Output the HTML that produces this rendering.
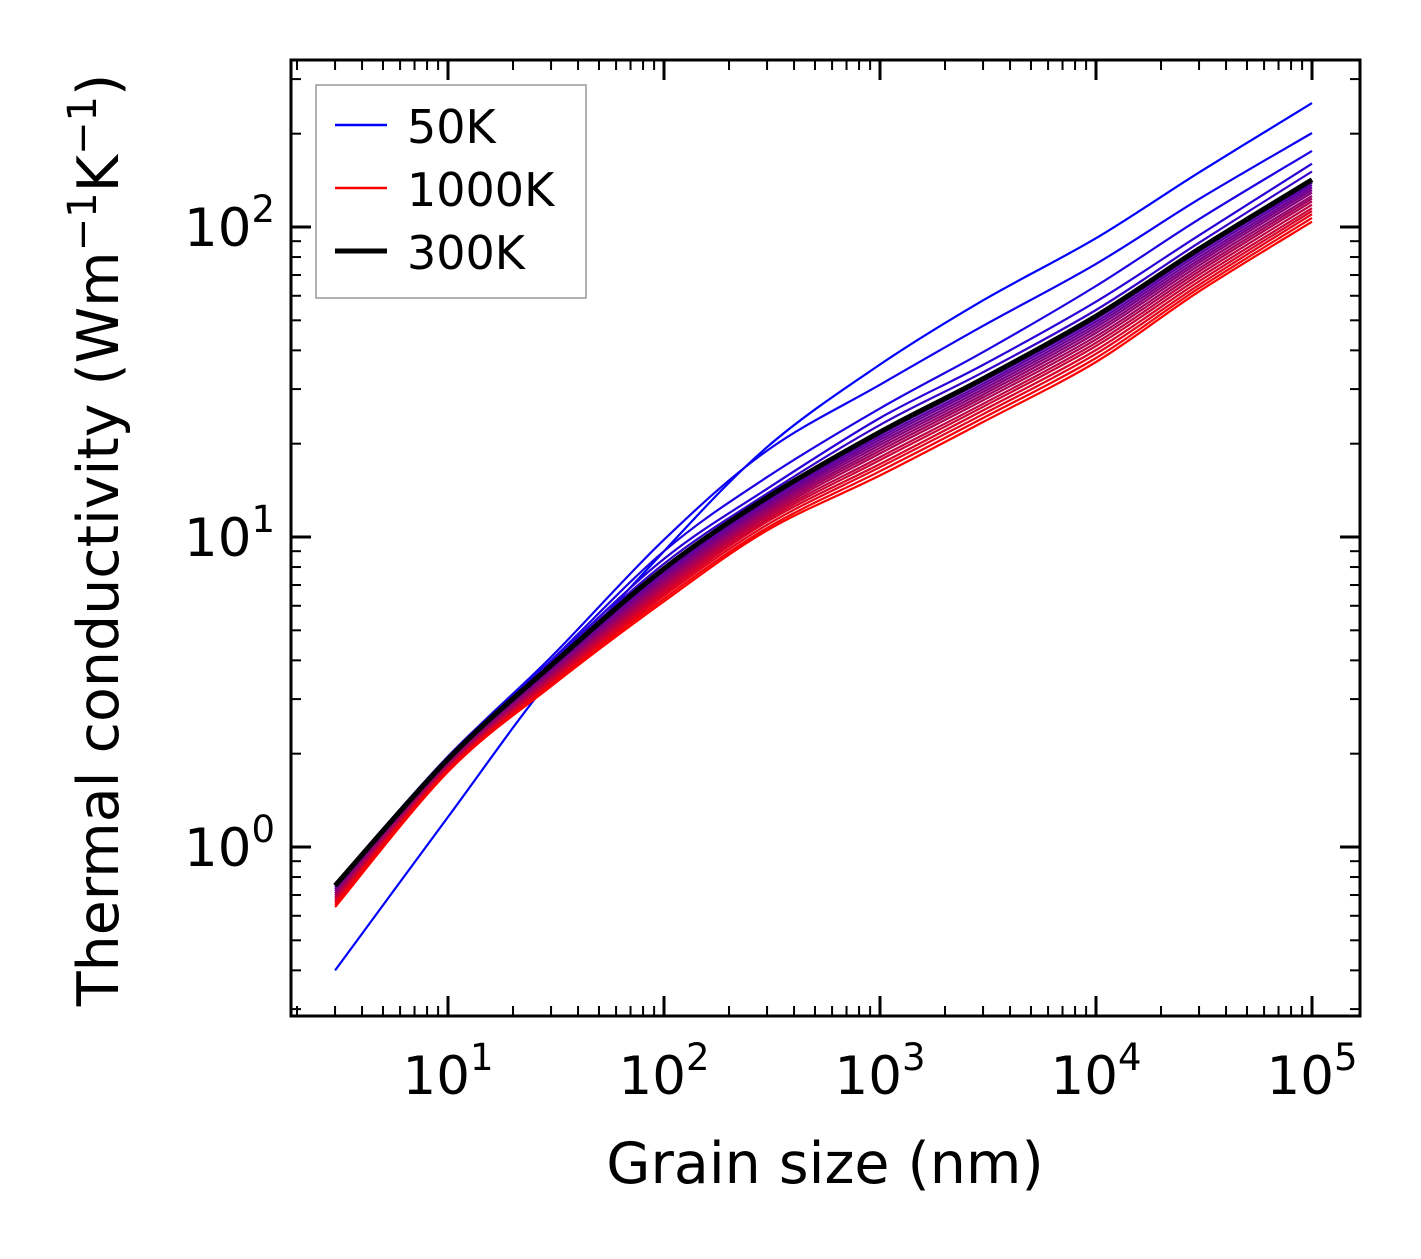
<!DOCTYPE html>
<html><head><meta charset="utf-8"><style>
body{margin:0;background:#fff}
svg text{font-family:"DejaVu Sans","Liberation Sans",sans-serif;fill:#000}
</style></head><body>
<svg id="chart" width="1421" height="1254" viewBox="0 0 1421 1254" xmlns="http://www.w3.org/2000/svg">
<g id="curves"></g>
<g id="axes"></g>
<text x="825" y="1183" font-size="57" text-anchor="middle">Grain size (nm)</text>
<text transform="translate(118,540) rotate(-90)" font-size="57" text-anchor="middle">Thermal conductivity (Wm<tspan dy="-22" font-size="40">−1</tspan><tspan dy="22">K</tspan><tspan dy="-22" font-size="40">−1</tspan><tspan dy="22">)</tspan></text>
<g>
<rect x="316" y="85" width="270" height="213" fill="#fff" stroke="#999" stroke-width="1.5"/>
<line x1="335" y1="125" x2="387" y2="125" stroke="#0000ff" stroke-width="2.5"/>
<text x="407" y="143" font-size="46">50K</text>
<line x1="335" y1="188" x2="387" y2="188" stroke="#ff0000" stroke-width="2.5"/>
<text x="407" y="206" font-size="46">1000K</text>
<line x1="335" y1="251" x2="387" y2="251" stroke="#000" stroke-width="5"/>
<text x="407" y="269" font-size="46">300K</text>
</g>
</svg>
<script>
const grainSizes=[3,10,30,100,300,1000,3000,10000,30000,100000];
const temps=[50,100,150,200,250,300,350,400,450,500,550,600,650,700,750,800,850,900,950,1000];
const k50=[0.40,1.25,3.5,9.0,19.5,36,58,92,150,251];
const k100=[0.74,1.95,4.1,9.8,19,31,48,76,123,201];
const k150=[0.76,1.96,4.0,9.0,15.6,26,39.5,64.5,106,176];
const k200=[0.76,1.95,3.95,8.5,14.3,24.2,35.9,57.4,94,160];
const k250=[0.76,1.94,3.9,8.2,13.8,23,34,54,89,151];
const k300=[0.75,1.92,3.85,7.9,13.4,21.8,32.4,51.6,85,142];
const k350=[0.74,1.91,3.81,7.78,13.2,21.4,31.8,50.5,83.3,139];
const k400=[0.73,1.90,3.77,7.66,13.0,21.0,31.2,49.5,81.7,136.5];
const k450=[0.73,1.88,3.73,7.54,12.8,20.6,30.6,48.5,80,134];
const k500=[0.72,1.87,3.69,7.42,12.6,20.2,30.0,47.5,78.4,131.5];
const k550=[0.71,1.86,3.65,7.30,12.4,19.8,29.4,46.5,76.8,129];
const k600=[0.70,1.85,3.61,7.18,12.2,19.4,28.8,45.5,75.2,126];
const k650=[0.70,1.83,3.57,7.06,12.0,19.0,28.2,44.4,73.5,123.5];
const k700=[0.69,1.82,3.53,6.94,11.8,18.6,27.6,43.4,71.9,121];
const k750=[0.68,1.81,3.49,6.82,11.6,18.1,26.9,42.3,70.2,118];
const k800=[0.67,1.80,3.45,6.70,11.4,17.7,26.3,41.3,68.5,115];
const k850=[0.67,1.79,3.41,6.58,11.2,17.2,25.6,40.1,66.8,112.5];
const k900=[0.66,1.78,3.37,6.46,10.95,16.8,24.9,39.0,65.1,110];
const k950=[0.65,1.76,3.34,6.33,10.7,16.3,24.2,37.8,63.5,107];
const k1000=[0.64,1.75,3.3,6.2,10.5,15.8,23.5,36.7,62,104];
const series=[k50,k100,k150,k200,k250,k300,k350,k400,k450,k500,k550,k600,k650,k700,k750,k800,k850,k900,k950,k1000];
const xTickExps=[1,2,3,4,5];
const yTickExps=[0,1,2];

const X0=291,X1=1360,Y0=60,Y1=1016;
const xmin=Math.pow(10,1-(448-291)/216), xmax=Math.pow(10,5+48/216);
const ymax=Math.pow(10,2+167/310), ymin=Math.pow(10,-169/310);
const xs=v=>X0+(Math.log10(v)-Math.log10(xmin))/(Math.log10(xmax)-Math.log10(xmin))*(X1-X0);
const ys=v=>Y1-(Math.log10(v)-Math.log10(ymin))/(Math.log10(ymax)-Math.log10(ymin))*(Y1-Y0);
const NS="http://www.w3.org/2000/svg";
function pathFor(vals){
  const p=grainSizes.map((g,i)=>[xs(g),ys(vals[i])]);
  let d="M"+p[0][0].toFixed(1)+","+p[0][1].toFixed(1);
  for(let i=0;i<p.length-1;i++){
    const a=p[Math.max(i-1,0)],b=p[i],c=p[i+1],e=p[Math.min(i+2,p.length-1)];
    const c1=[b[0]+(c[0]-a[0])/6,b[1]+(c[1]-a[1])/6],c2=[c[0]-(e[0]-b[0])/6,c[1]-(e[1]-b[1])/6];
    d+=" C"+c1.map(v=>v.toFixed(1))+" "+c2.map(v=>v.toFixed(1))+" "+c.map(v=>v.toFixed(1));
  }
  return d;
}
const cg=document.getElementById('curves');
series.forEach((vals,i)=>{
  const f=(temps[i]-50)/950;
  const el=document.createElementNS(NS,'path');
  el.setAttribute('d',pathFor(vals));
  el.setAttribute('fill','none');
  el.setAttribute('stroke',`rgb(${Math.round(255*f)},0,${Math.round(255*(1-f))})`);
  el.setAttribute('stroke-width','2.2');
  
  
  cg.appendChild(el);
});
const blk=document.createElementNS(NS,'path');
blk.setAttribute('d',pathFor(k300));
blk.setAttribute('fill','none');blk.setAttribute('stroke','#000');blk.setAttribute('stroke-width','5');


cg.appendChild(blk);

const ax=document.getElementById('axes');
function ln(x1,y1,x2,y2,w,name){const l=document.createElementNS(NS,'line');
  l.setAttribute('x1',x1);l.setAttribute('y1',y1);l.setAttribute('x2',x2);l.setAttribute('y2',y2);
  l.setAttribute('stroke','#000');l.setAttribute('stroke-width',w);
  
  
  ax.appendChild(l);}
for(let e=0;e<=5;e++)for(let m=1;m<10;m++){const v=m*Math.pow(10,e);if(v<xmin||v>xmax)continue;const x=xs(v),L=m==1?20:10,w=m==1?3:2;
  ln(x,Y1,x,Y1-L,w,'x-tick');ln(x,Y0,x,Y0+L,w,'x-tick-top');}
for(let e=-1;e<=2;e++)for(let m=1;m<10;m++){const v=m*Math.pow(10,e);if(v<ymin||v>ymax)continue;const y=ys(v),L=m==1?20:10,w=m==1?3:2;
  ln(X0,y,X0+L,y,w,'y-tick');ln(X1,y,X1-L,y,w,'y-tick-right');}
const fr=document.createElementNS(NS,'rect');
fr.setAttribute('x',X0);fr.setAttribute('y',Y0);fr.setAttribute('width',X1-X0);fr.setAttribute('height',Y1-Y0);
fr.setAttribute('fill','none');fr.setAttribute('stroke','#000');fr.setAttribute('stroke-width','3');


ax.appendChild(fr);
function lab(x,y,ex,anchor,name){const t=document.createElementNS(NS,'text');
  t.setAttribute('x',x);t.setAttribute('y',y);t.setAttribute('font-size','53');t.setAttribute('text-anchor',anchor);
  t.innerHTML='10<tspan dy="-24" font-size="37">'+ex+'</tspan>';
  
  
  ax.appendChild(t);}
xTickExps.forEach(e=>lab(xs(Math.pow(10,e)),1094,e,'middle','x-tick-label'));
yTickExps.forEach(e=>lab(275,ys(Math.pow(10,e))+19,e,'end','y-tick-label'));
</script>
</body></html>
